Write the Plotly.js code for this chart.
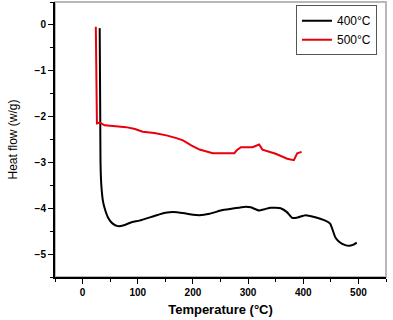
<!DOCTYPE html>
<html>
<head>
<meta charset="utf-8">
<script src="https://cdn.plot.ly/plotly-3.0.1.min.js"></script>
<style>html,body{margin:0;padding:0;background:#fff;}#chart{width:393px;height:320px;}</style>
</head>
<body>
<div id="chart"></div>
<script>
var temps400 = [31, 31.5, 32, 32.5, 34, 37, 40, 46, 54, 64, 75, 90, 103, 130, 150, 164, 185, 200, 212, 230, 254, 275, 293, 305, 320, 330, 341, 359, 371, 380, 390, 404, 420, 440, 449, 458, 465, 475, 483, 490, 497];
var flow400 = [-0.07, -1, -2, -3, -3.5, -3.85, -4.0, -4.2, -4.33, -4.39, -4.37, -4.3, -4.27, -4.17, -4.1, -4.08, -4.11, -4.14, -4.15, -4.12, -4.04, -4.0, -3.97, -3.98, -4.05, -4.02, -3.99, -4.0, -4.09, -4.21, -4.2, -4.15, -4.19, -4.27, -4.34, -4.63, -4.73, -4.8, -4.82, -4.8, -4.75];
var temps500 = [24, 25, 26, 31, 40, 60, 79, 95, 109, 130, 152, 170, 182, 197, 212, 236, 248, 275, 280, 287, 308, 320, 326, 350, 371, 383, 389, 397];
var flow500 = [-0.04, -1, -2.15, -2.13, -2.19, -2.21, -2.23, -2.27, -2.33, -2.36, -2.41, -2.47, -2.52, -2.63, -2.72, -2.8, -2.8, -2.8, -2.73, -2.67, -2.67, -2.61, -2.72, -2.81, -2.92, -2.95, -2.8, -2.77];
var seriesNames = ["400°C", "500°C"];
var xTicks = [0, 100, 200, 300, 400, 500];
var yTicks = [0, -1, -2, -3, -4, -5];

var tickFont = {family: "Liberation Sans, Arial, sans-serif", size: 10, color: "#000", weight: "bold"};
var data = [
  {x: temps400, y: flow400, name: seriesNames[0], mode: "lines", line: {color: "#000000", width: 2, shape: "spline", smoothing: 0.5}},
  {x: temps500, y: flow500, name: seriesNames[1], mode: "lines", line: {color: "#e8000b", width: 2}}
];
var layout = {
  width: 393, height: 320,
  margin: {l: 55, r: 7, t: 2, b: 43},
  paper_bgcolor: "#fff", plot_bgcolor: "#fff",
  showlegend: true,
  legend: {x: 0.728, y: 0.988, xanchor: "left", yanchor: "top", bordercolor: "#555", borderwidth: 1,
           bgcolor: "#fff", font: {family: "Liberation Sans, Arial, sans-serif", size: 12, color: "#000"},
           itemwidth: 30, tracegroupgap: 0},
  xaxis: {range: [-50, 550], tickvals: xTicks, ticks: "outside", ticklen: 5, tickwidth: 1, tickcolor: "#000",
          showgrid: false, zeroline: false, showline: true, linecolor: "#000", linewidth: 2,
          tickfont: tickFont,
          minor: {dtick: 50, tick0: 0, ticks: "outside", ticklen: 3, tickcolor: "#000", showgrid: false},
          title: {text: "Temperature (°C)", standoff: 8, font: {family: "Liberation Sans, Arial, sans-serif", size: 13, color: "#000", weight: "bold"}}},
  yaxis: {range: [-5.5, 0.5], tickvals: yTicks, ticks: "outside", ticklen: 5, tickwidth: 1, tickcolor: "#000",
          showgrid: false, zeroline: false, showline: true, linecolor: "#000", linewidth: 2,
          tickfont: tickFont,
          minor: {dtick: 0.5, tick0: 0, ticks: "outside", ticklen: 3, tickcolor: "#000", showgrid: false},
          title: {text: "Heat flow (w/g)", standoff: 14, font: {family: "Liberation Sans, Arial, sans-serif", size: 12, color: "#000"}}},
  shapes: [{type: "rect", xref: "paper", yref: "paper", x0: 0, x1: 1, y0: 0, y1: 1, line: {color: "#b8b8b8", width: 2}, layer: "below"}]
};
Plotly.newPlot("chart", data, layout, {displayModeBar: false, staticPlot: true});
</script>
</body>
</html>
